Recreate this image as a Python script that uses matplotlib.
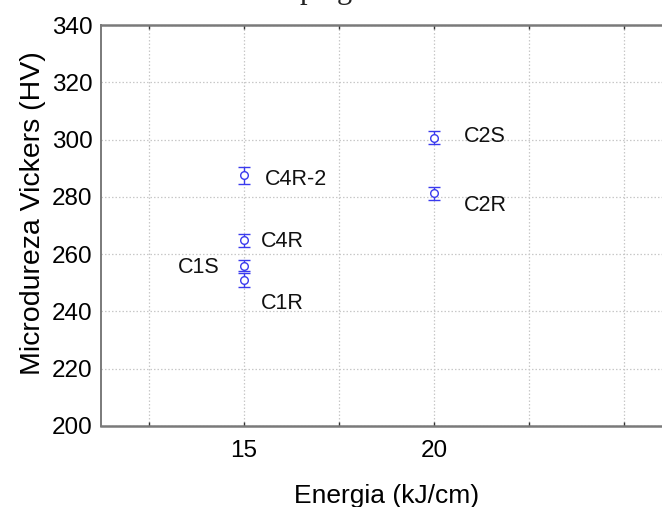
import matplotlib
matplotlib.use("Agg")
import matplotlib.pyplot as plt
from matplotlib.ticker import MultipleLocator, FixedFormatter, FixedLocator

plt.rcParams['font.family'] = ['Liberation Sans', 'DejaVu Sans']

# Hardness measurements per welding energy
samples = ["C2S", "C2R", "C4R-2", "C4R", "C1S", "C1R"]
energy = [20, 20, 15, 15, 15, 15]
hardness = [300.7, 281.2, 287.5, 264.8, 256.0, 251.0]
hardness_err = [2.4, 2.3, 2.9, 2.2, 2.0, 2.3]

# label anchor positions (energy, hardness) next to each point
label_x = [20.77, 20.77, 15.56, 15.45, 13.27, 15.45]
label_y = [301.0, 276.9, 286.0, 264.3, 255.3, 242.7]

x_ticks = [15, 20]
x_tick_labels = ["15", "20"]
y_ticks = [200, 220, 240, 260, 280, 300, 320, 340]

W, H = 662, 507
fig = plt.figure(figsize=(W / 100, H / 100), dpi=100)

# axes box in pixel coordinates (right edge runs past the canvas)
left, right, top, bottom = 101, 672, 25, 426
ax = fig.add_axes([left / W, 1 - bottom / H, (right - left) / W, (bottom - top) / H])

blue = "#3a3aee"
ax.errorbar(energy, hardness, yerr=hardness_err, fmt="o", mfc="white",
            mec=blue, color=blue, ecolor=blue, ms=5.5, mew=1.0,
            elinewidth=1.0, capsize=4.5, capthick=1.0, zorder=3)

for name, lx, ly in zip(samples, label_x, label_y):
    ax.text(lx, ly, name, fontsize=15.5, va="center", ha="left", color="#111111")

ax.set_xlim(11.25, 26.25)
ax.set_ylim(200, 340)
ax.xaxis.set_major_locator(FixedLocator(x_ticks))
ax.xaxis.set_major_formatter(FixedFormatter(x_tick_labels))
ax.xaxis.set_minor_locator(MultipleLocator(2.5))
ax.set_yticks(y_ticks)

ax.grid(True, which="both", axis="x", linestyle=(0, (1.2, 1.6)), color="#c8c8c8", lw=0.9)
ax.grid(True, which="major", axis="y", linestyle=(0, (1.2, 1.6)), color="#c8c8c8", lw=0.9)
ax.set_axisbelow(True)

for side in ["left", "bottom", "top", "right"]:
    ax.spines[side].set_color("#7a7a7a")
    ax.spines[side].set_linewidth(1.8)
ax.spines["left"].set_linewidth(1.4)

ax.tick_params(axis="x", which="both", direction="in", length=3, width=1,
               top=True, color="#333333", labelsize=17.5, pad=10)
ax.tick_params(axis="y", which="both", length=0, labelsize=17.5, pad=6)

ax.set_xlabel("Energia (kJ/cm)", fontsize=19, labelpad=16)
ax.set_ylabel("Microdureza Vickers (HV)", fontsize=20.5)
ax.yaxis.set_label_coords(-0.097, 0.53)

# caption line above the chart, mostly outside the canvas
fig.text(300 / W, 1 + 2 / H, "p", family="Liberation Serif", fontsize=22,
         va="baseline", ha="left", color="#222222")
fig.text(337 / W, 1 + 2 / H, "g", family="Liberation Serif", fontsize=22,
         va="baseline", ha="left", color="#222222")

fig.savefig("out.png", dpi=100)
